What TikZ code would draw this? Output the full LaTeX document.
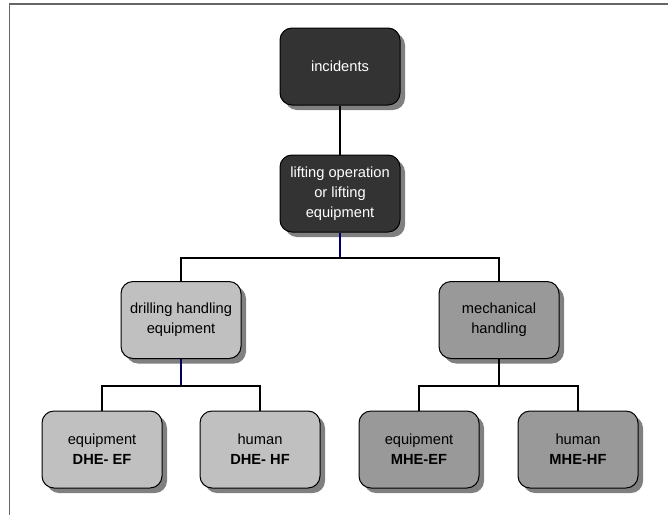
\documentclass[tikz,border=0pt]{standalone}
\usepackage{fontspec}
\setmainfont{Liberation Sans}
\usetikzlibrary{shadows}

\definecolor{boxdark}{HTML}{333333}
\definecolor{boxlight}{HTML}{C0C0C0}
\definecolor{boxmid}{HTML}{999999}
\definecolor{linkblue}{HTML}{000066}

\tikzset{
  box/.style={draw=black, line width=0.75pt, rounded corners=9pt,
    minimum width=90pt, minimum height=57.75pt, align=center,
    font=\fontsize{11}{15}\selectfont,
    drop shadow={shadow xshift=3.75pt, shadow yshift=-3.75pt, fill=black!50, opacity=1}},
  darkbox/.style={box, fill=boxdark, text=white},
  lightbox/.style={box, fill=boxlight},
  midbox/.style={box, fill=boxmid},
  link/.style={draw=black, line width=1.5pt},
  frame/.style={draw=black!60, line width=1.1pt}
}

\begin{document}
\begin{tikzpicture}[x=0.75pt, y=-0.75pt]
  \useasboundingbox (0,0) rectangle (668,515);
  \draw[frame] (668,4) -- (9.5,4) -- (9.5,515);

  % top of the tree
  \node[darkbox] (inc) at (340,66.5) {incidents};
  \node[darkbox] (lift) at (340,193.5) {lifting operation\\or lifting\\equipment};

  % second level
  \node[lightbox] (dhe) at (181,320) {drilling handling\\equipment};
  \node[midbox] (mhe) at (499,320) {mechanical\\handling};

  % leaves
  \node[lightbox] (dheef) at (102,449.5) {equipment\\\textbf{DHE- EF}};
  \node[lightbox] (dhehf) at (260,449.5) {human\\\textbf{DHE- HF}};
  \node[midbox] (mheef) at (419,449.5) {equipment\\\textbf{MHE-EF}};
  \node[midbox] (mhehf) at (578,449.5) {human\\\textbf{MHE-HF}};

  % connectors
  \draw[link] (inc) -- (lift);
  \draw[link, draw=linkblue] (lift.south) -- ++(0,25.5) coordinate (j1);
  \draw[link] (j1) -| (dhe.north);
  \draw[link] (j1) -| (mhe.north);
  \draw[link, draw=linkblue] (dhe.south) -- ++(0,27) coordinate (j2);
  \draw[link] (j2) -| (dheef.north);
  \draw[link] (j2) -| (dhehf.north);
  \draw[link] (mhe.south) -- ++(0,27) coordinate (j3);
  \draw[link] (j3) -| (mheef.north);
  \draw[link] (j3) -| (mhehf.north);
\end{tikzpicture}
\end{document}
